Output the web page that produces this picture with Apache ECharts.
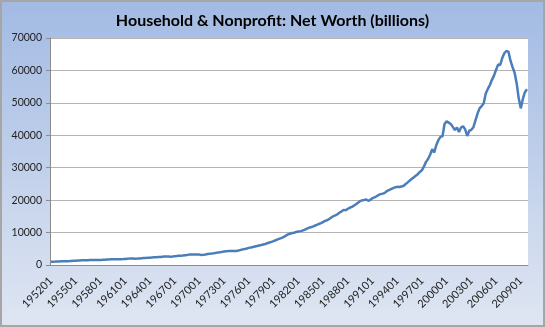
<!DOCTYPE html>
<html>
<head>
<meta charset="utf-8">
<title>Household & Nonprofit: Net Worth</title>
<script src="https://cdn.jsdelivr.net/npm/echarts@6/dist/echarts.min.js"></script>
<style>
  html, body { margin: 0; padding: 0; background: #fff; }
  #chart { width: 545px; height: 327px; }
</style>
</head>
<body>
<div id="chart"></div>
<script>
// Quarterly series, 1952Q1 through 2009Q4 (billions of dollars)
const firstYear = 1952;
const lastYear = 2009;
const quarterCodes = ['01', '02', '03', '04'];

const netWorth = [
  1020, 1040, 1060, 1090,   // 1952
  1110, 1120, 1130, 1150,   // 1953
  1180, 1210, 1250, 1300,   // 1954
  1340, 1380, 1410, 1440,   // 1955
  1460, 1480, 1490, 1510,   // 1956
  1520, 1540, 1520, 1510,   // 1957
  1550, 1590, 1640, 1690,   // 1958
  1720, 1750, 1760, 1790,   // 1959
  1790, 1800, 1810, 1830,   // 1960
  1880, 1930, 1970, 2030,   // 1961
  2010, 1960, 1980, 2040,   // 1962
  2090, 2140, 2170, 2230,   // 1963
  2270, 2320, 2370, 2410,   // 1964
  2450, 2480, 2540, 2600,   // 1965
  2620, 2600, 2570, 2620,   // 1966
  2700, 2770, 2850, 2880,   // 1967
  2920, 3010, 3090, 3200,   // 1968
  3220, 3230, 3200, 3230,   // 1969
  3200, 3080, 3130, 3230,   // 1970
  3380, 3460, 3520, 3620,   // 1971
  3740, 3830, 3920, 4050,   // 1972
  4150, 4220, 4280, 4300,   // 1973
  4330, 4350, 4320, 4450,   // 1974
  4650, 4820, 4900, 5080,   // 1975
  5280, 5400, 5540, 5720,   // 1976
  5860, 6020, 6160, 6330,   // 1977
  6470, 6720, 6930, 7140,   // 1978
  7380, 7620, 7900, 8150,   // 1979
  8380, 8700, 9050, 9450,   // 1980
  9650, 9850, 9950, 10200,  // 1981
  10350, 10450, 10600, 10850, // 1982
  11150, 11450, 11650, 11850, // 1983
  12100, 12350, 12650, 12900, // 1984
  13250, 13600, 13800, 14200, // 1985
  14650, 15050, 15300, 15650, // 1986
  16150, 16500, 17000, 16900, // 1987
  17300, 17650, 17900, 18300, // 1988
  18750, 19200, 19700, 19950, // 1989
  20050, 20200, 19800, 20100, // 1990
  20600, 20850, 21200, 21600, // 1991
  21850, 22000, 22250, 22800, // 1992
  23100, 23400, 23700, 23950, // 1993
  24100, 24050, 24200, 24350, // 1994
  24900, 25400, 26000, 26500, // 1995
  27000, 27500, 28000, 28700, // 1996
  29200, 30400, 31800, 32700, // 1997
  34000, 35700, 34700, 37000, // 1998
  38500, 39500, 39700, 43500, // 1999
  44300, 43900, 43500, 42600, // 2000
  41600, 42400, 41000, 42400, // 2001
  42800, 41800, 39800, 41400, // 2002
  41700, 42500, 44600, 46700, // 2003
  48300, 49000, 49900, 52900, // 2004
  54300, 55500, 57100, 58400, // 2005
  60200, 61800, 61700, 63800, // 2006
  65300, 66000, 65800, 63000, // 2007
  61000, 59300, 56000, 51400, // 2008
  48300, 51200, 53300, 54200  // 2009
];

// Category labels of the form YYYYQQ
const quarters = [];
for (let y = firstYear; y <= lastYear; y++) {
  quarterCodes.forEach(q => quarters.push(String(y) + q));
}

const yTicks = { min: 0, max: 70000, step: 10000 };
const titleText = 'Household & Nonprofit: Net Worth (billions)';

const chart = echarts.init(document.getElementById('chart'), null, { renderer: 'canvas' });

chart.setOption({
  animation: false,
  backgroundColor: new echarts.graphic.LinearGradient(0, 0, 0, 1, [
    { offset: 0, color: '#a2bae3' },
    { offset: 1, color: '#dfe6f2' }
  ]),
  title: {
    text: titleText,
    left: 'center',
    top: 8,
    textStyle: {
      fontFamily: 'Lato',
      fontWeight: 'bold',
      fontSize: 16,
      color: '#000'
    }
  },
  grid: {
    left: 50,
    right: 17,
    top: 38,
    bottom: 62,
    show: true,
    backgroundColor: '#ffffff',
    borderWidth: 0
  },
  xAxis: {
    type: 'category',
    data: quarters,
    boundaryGap: true,
    axisLine: { show: true, lineStyle: { color: '#8c8c8c', width: 1 } },
    axisTick: { show: false },
    axisLabel: {
      interval: 11,
      rotate: 45,
      margin: 14,
      fontFamily: 'Lato',
      fontSize: 11,
      color: '#222'
    },
    splitLine: { show: false }
  },
  yAxis: {
    type: 'value',
    min: yTicks.min,
    max: yTicks.max,
    interval: yTicks.step,
    axisLine: { show: true, lineStyle: { color: '#8c8c8c', width: 1 } },
    axisTick: { show: true, length: 4, lineStyle: { color: '#8c8c8c' } },
    axisLabel: {
      margin: 8,
      fontFamily: 'Lato',
      fontSize: 10.5,
      color: '#222',
      formatter: v => String(v)
    },
    splitLine: { show: true, lineStyle: { color: '#b3b3b3', width: 1 } }
  },
  series: [{
    type: 'line',
    data: netWorth,
    showSymbol: false,
    smooth: false,
    lineStyle: { color: '#4a7ebb', width: 2.5 },
    itemStyle: { color: '#4a7ebb' }
  }],
  graphic: [{
    type: 'rect',
    silent: true,
    shape: { x: 1, y: 1, width: 543, height: 325 },
    style: { fill: 'none', stroke: '#a6a6a6', lineWidth: 2 },
    z: 100
  }]
});
</script>
</body>
</html>
